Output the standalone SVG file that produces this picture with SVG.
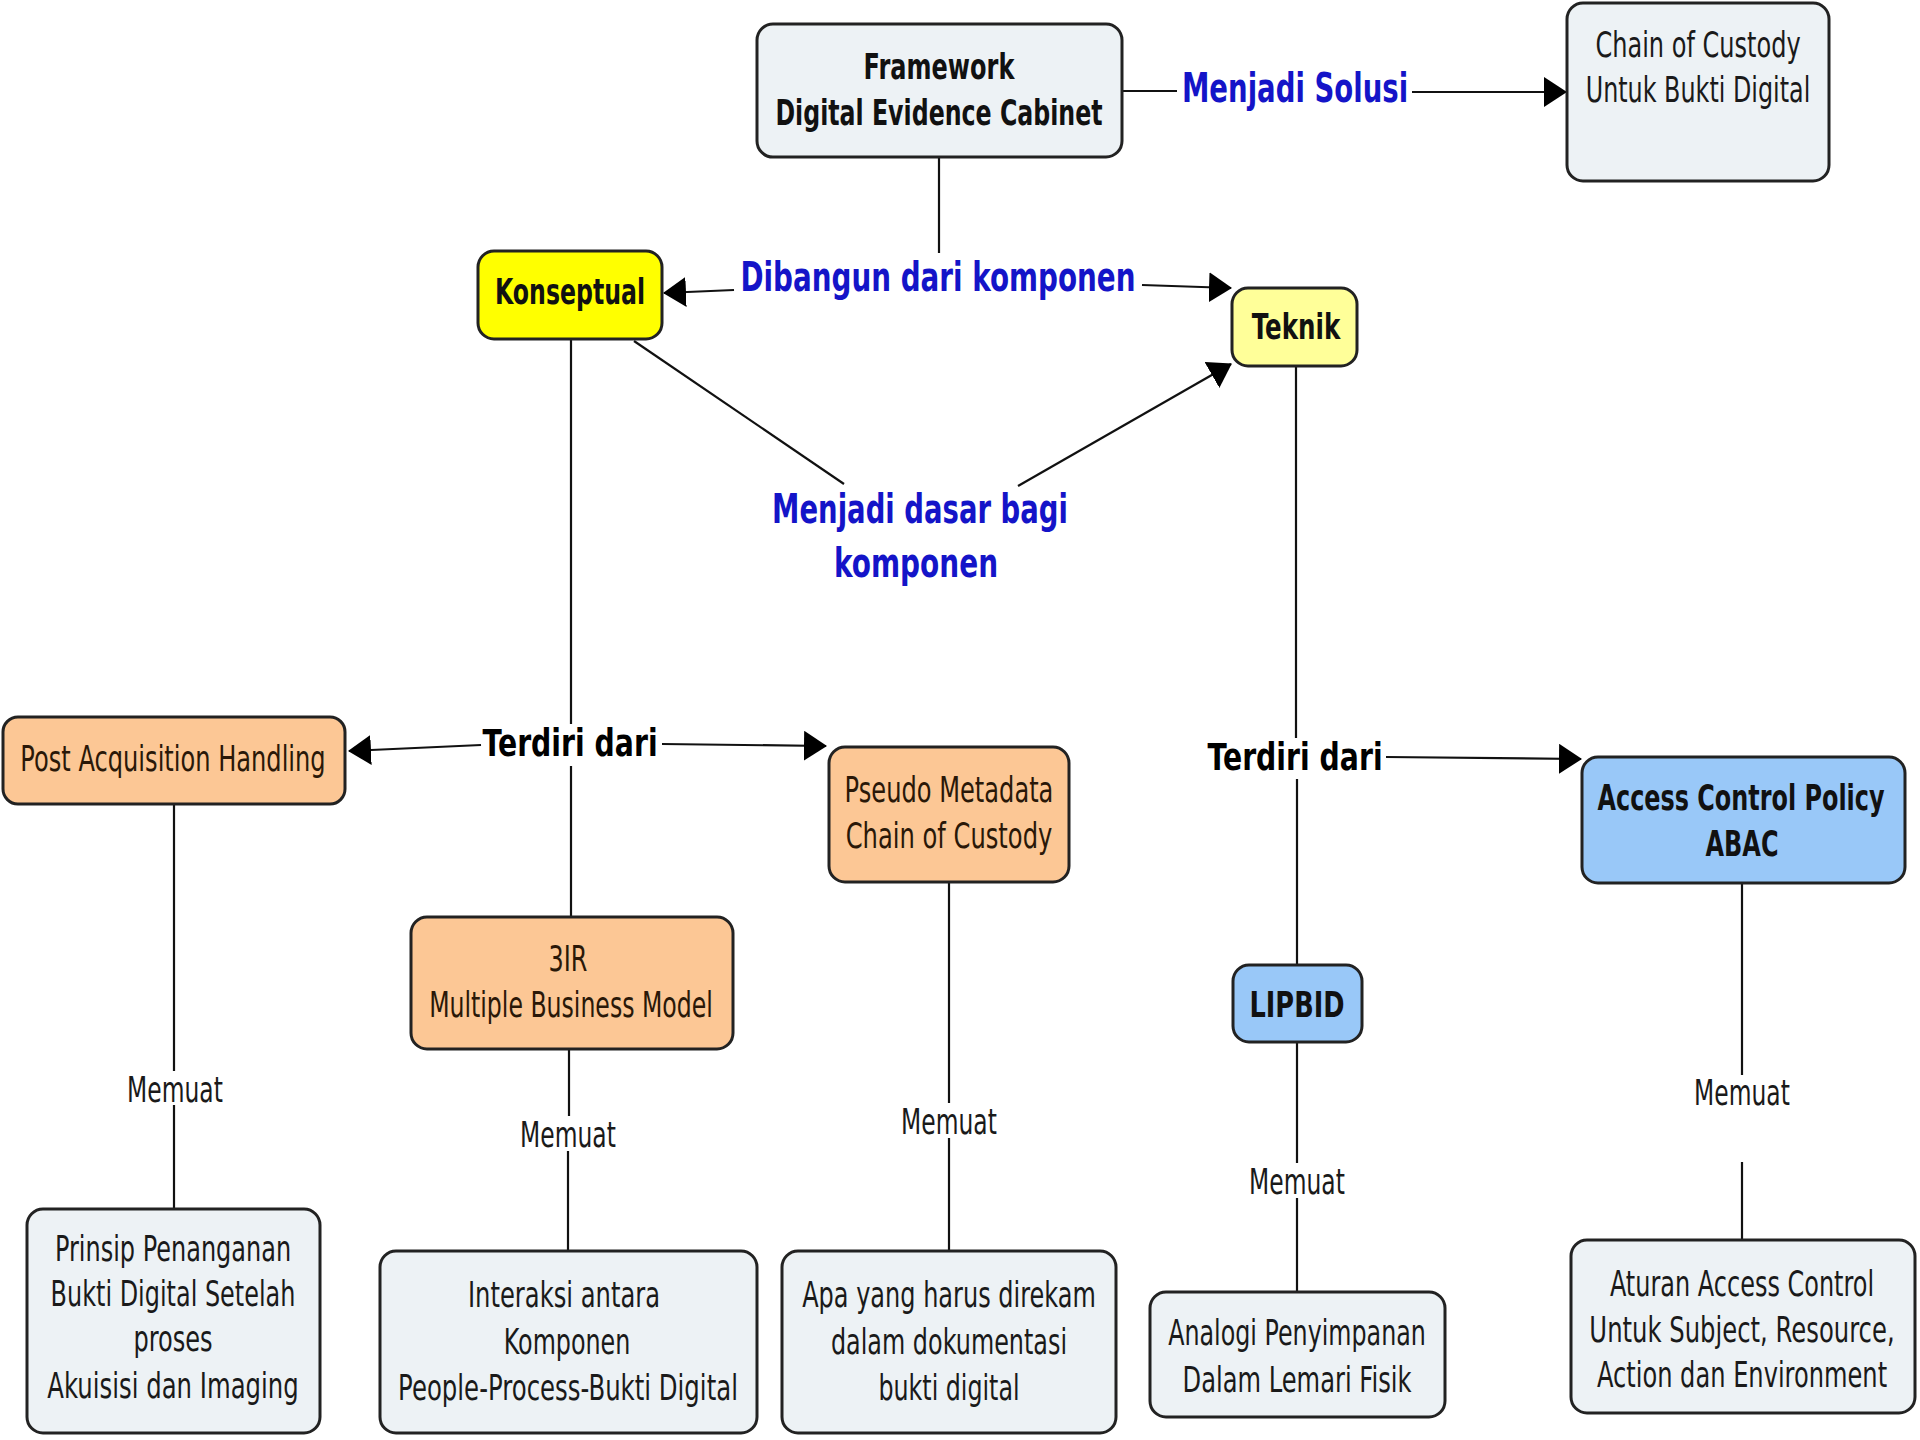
<svg xmlns="http://www.w3.org/2000/svg" width="1920" height="1440" viewBox="0 0 1920 1440">
  <defs>
    <marker id="arrow" markerUnits="userSpaceOnUse" markerWidth="24" markerHeight="30" refX="22" refY="15" orient="auto">
      <path d="M0,0 L23,15 L0,30 z" fill="#000"/>
    </marker>
  </defs>
  <style>
    .box { stroke: #222; stroke-width: 3; }
    .light { fill: #edf2f5; }
    .peach { fill: #fcc795; }
    .blue { fill: #99c8f8; }
    .yellow { fill: #ffff00; }
    .paleyellow { fill: #ffff99; }
    text { font-family: "DejaVu Sans", Verdana, sans-serif; text-anchor: middle; }
    .t { font-size: 35px; fill: #1a1a1a; }
    .tb { font-size: 35px; font-weight: bold; fill: #111; }
    .tp { font-size: 35px; fill: #2a1808; }
    .lbl { font-size: 41px; font-weight: bold; fill: #1414c8; }
    .lk { font-size: 37px; font-weight: bold; fill: #000; }
    .mem { font-size: 35px; fill: #1a1a1a; }
    .c { stroke: #111; stroke-width: 2.2; fill: none; }
    .ca { stroke: #111; stroke-width: 2.2; fill: none; marker-end: url(#arrow); }
  </style>

  <rect width="1920" height="1440" fill="#fff"/>

  <!-- connectors and their labels (labels use a narrow horizontal scale) -->
  <g id="connectors">
    <line class="c" x1="1122" y1="91" x2="1177" y2="91"/>
    <line class="ca" x1="1412" y1="92" x2="1566" y2="92"/>
    <text class="lbl" transform="translate(1295 0) scale(0.58 1)" x="0" y="102" textLength="390" lengthAdjust="spacingAndGlyphs">Menjadi Solusi</text>

    <line class="c" x1="939" y1="157" x2="939" y2="253"/>
    <line class="ca" x1="734" y1="290" x2="664" y2="293"/>
    <line class="ca" x1="1142" y1="285" x2="1231" y2="288"/>
    <text class="lbl" transform="translate(938 0) scale(0.58 1)" x="0" y="291" textLength="681" lengthAdjust="spacingAndGlyphs">Dibangun dari komponen</text>

    <line class="c" x1="634" y1="341" x2="844" y2="484"/>
    <line class="ca" x1="1018" y1="486" x2="1231" y2="364"/>
    <text class="lbl" transform="translate(920 0) scale(0.58 1)" x="0" y="523" textLength="510" lengthAdjust="spacingAndGlyphs">Menjadi dasar bagi</text>
    <text class="lbl" transform="translate(916 0) scale(0.58 1)" x="0" y="577" textLength="283" lengthAdjust="spacingAndGlyphs">komponen</text>

    <line class="c" x1="571" y1="339" x2="571" y2="724"/>
    <line class="c" x1="571" y1="766" x2="571" y2="917"/>
    <line class="ca" x1="481" y1="745" x2="349" y2="751"/>
    <line class="ca" x1="662" y1="744" x2="826" y2="746"/>
    <text class="lk" transform="translate(570 0) scale(0.58 1)" x="0" y="756" textLength="302" lengthAdjust="spacingAndGlyphs">Terdiri dari</text>

    <line class="c" x1="1296" y1="366" x2="1296" y2="738"/>
    <line class="c" x1="1297" y1="779" x2="1297" y2="965"/>
    <line class="ca" x1="1386" y1="757" x2="1581" y2="759"/>
    <text class="lk" transform="translate(1295 0) scale(0.58 1)" x="0" y="770" textLength="302" lengthAdjust="spacingAndGlyphs">Terdiri dari</text>

    <line class="c" x1="174" y1="804" x2="174" y2="1071"/>
    <line class="c" x1="174" y1="1105" x2="174" y2="1209"/>
    <text class="mem" transform="translate(175 0) scale(0.72 1)" x="0" y="1102" textLength="133" lengthAdjust="spacingAndGlyphs">Memuat</text>

    <line class="c" x1="569" y1="1049" x2="569" y2="1116"/>
    <line class="c" x1="568" y1="1151" x2="568" y2="1251"/>
    <text class="mem" transform="translate(568 0) scale(0.72 1)" x="0" y="1147" textLength="133" lengthAdjust="spacingAndGlyphs">Memuat</text>

    <line class="c" x1="949" y1="882" x2="949" y2="1103"/>
    <line class="c" x1="949" y1="1138" x2="949" y2="1251"/>
    <text class="mem" transform="translate(949 0) scale(0.72 1)" x="0" y="1134" textLength="133" lengthAdjust="spacingAndGlyphs">Memuat</text>

    <line class="c" x1="1297" y1="1042" x2="1297" y2="1163"/>
    <line class="c" x1="1297" y1="1198" x2="1297" y2="1292"/>
    <text class="mem" transform="translate(1297 0) scale(0.72 1)" x="0" y="1194" textLength="133" lengthAdjust="spacingAndGlyphs">Memuat</text>

    <line class="c" x1="1742" y1="883" x2="1742" y2="1075"/>
    <line class="c" x1="1742" y1="1162" x2="1742" y2="1240"/>
    <text class="mem" transform="translate(1742 0) scale(0.72 1)" x="0" y="1105" textLength="133" lengthAdjust="spacingAndGlyphs">Memuat</text>
  </g>

  <!-- concept nodes -->
  <g id="framework">
    <rect class="box light" x="757" y="24" width="365" height="133" rx="16"/>
    <text class="tb" transform="translate(939 0) scale(0.58 1)" x="0" y="79" textLength="260" lengthAdjust="spacingAndGlyphs">Framework</text>
    <text class="tb" transform="translate(939 0) scale(0.58 1)" x="0" y="125" textLength="564" lengthAdjust="spacingAndGlyphs">Digital Evidence Cabinet</text>
  </g>

  <g id="chain-of-custody">
    <rect class="box light" x="1567" y="3" width="262" height="178" rx="16"/>
    <text class="t" transform="translate(1698 0) scale(0.72 1)" x="0" y="57" textLength="285" lengthAdjust="spacingAndGlyphs">Chain of Custody</text>
    <text class="t" transform="translate(1698 0) scale(0.72 1)" x="0" y="102" textLength="312" lengthAdjust="spacingAndGlyphs">Untuk Bukti Digital</text>
  </g>

  <g id="konseptual">
    <rect class="box yellow" x="478" y="251" width="184" height="88" rx="16"/>
    <text class="tb" transform="translate(570 0) scale(0.58 1)" x="0" y="304" textLength="259" lengthAdjust="spacingAndGlyphs">Konseptual</text>
  </g>

  <g id="teknik">
    <rect class="box paleyellow" x="1232" y="288" width="125" height="78" rx="16"/>
    <text class="tb" transform="translate(1296 0) scale(0.58 1)" x="0" y="339" textLength="153" lengthAdjust="spacingAndGlyphs">Teknik</text>
  </g>

  <g id="post-acquisition">
    <rect class="box peach" x="3" y="717" width="342" height="87" rx="15"/>
    <text class="tp" transform="translate(173 0) scale(0.72 1)" x="0" y="771" textLength="424" lengthAdjust="spacingAndGlyphs">Post Acquisition Handling</text>
  </g>

  <g id="pseudo-metadata">
    <rect class="box peach" x="829" y="747" width="240" height="135" rx="16"/>
    <text class="tp" transform="translate(949 0) scale(0.72 1)" x="0" y="802" textLength="290" lengthAdjust="spacingAndGlyphs">Pseudo Metadata</text>
    <text class="tp" transform="translate(949 0) scale(0.72 1)" x="0" y="848" textLength="287" lengthAdjust="spacingAndGlyphs">Chain of Custody</text>
  </g>

  <g id="3ir">
    <rect class="box peach" x="411" y="917" width="322" height="132" rx="16"/>
    <text class="tp" transform="translate(568 0) scale(0.72 1)" x="0" y="971" textLength="54" lengthAdjust="spacingAndGlyphs">3IR</text>
    <text class="tp" transform="translate(571 0) scale(0.72 1)" x="0" y="1017" textLength="394" lengthAdjust="spacingAndGlyphs">Multiple Business Model</text>
  </g>

  <g id="lipbid">
    <rect class="box blue" x="1233" y="965" width="129" height="77" rx="16"/>
    <text class="tb" transform="translate(1297 0) scale(0.58 1)" x="0" y="1017" textLength="164" lengthAdjust="spacingAndGlyphs">LIPBID</text>
  </g>

  <g id="abac">
    <rect class="box blue" x="1582" y="757" width="323" height="126" rx="16"/>
    <text class="tb" transform="translate(1741 0) scale(0.58 1)" x="0" y="810" textLength="495" lengthAdjust="spacingAndGlyphs">Access Control Policy</text>
    <text class="tb" transform="translate(1742 0) scale(0.58 1)" x="0" y="856" textLength="126" lengthAdjust="spacingAndGlyphs">ABAC</text>
  </g>

  <g id="prinsip">
    <rect class="box light" x="27" y="1209" width="293" height="224" rx="16"/>
    <text class="t" transform="translate(173 0) scale(0.72 1)" x="0" y="1261" textLength="328" lengthAdjust="spacingAndGlyphs">Prinsip Penanganan</text>
    <text class="t" transform="translate(173 0) scale(0.72 1)" x="0" y="1306" textLength="340" lengthAdjust="spacingAndGlyphs">Bukti Digital Setelah</text>
    <text class="t" transform="translate(173 0) scale(0.72 1)" x="0" y="1351" textLength="110" lengthAdjust="spacingAndGlyphs">proses</text>
    <text class="t" transform="translate(173 0) scale(0.72 1)" x="0" y="1398" textLength="349" lengthAdjust="spacingAndGlyphs">Akuisisi dan Imaging</text>
  </g>

  <g id="interaksi">
    <rect class="box light" x="380" y="1251" width="377" height="182" rx="16"/>
    <text class="t" transform="translate(564 0) scale(0.72 1)" x="0" y="1307" textLength="267" lengthAdjust="spacingAndGlyphs">Interaksi antara</text>
    <text class="t" transform="translate(567 0) scale(0.72 1)" x="0" y="1354" textLength="176" lengthAdjust="spacingAndGlyphs">Komponen</text>
    <text class="t" transform="translate(568 0) scale(0.72 1)" x="0" y="1400" textLength="472" lengthAdjust="spacingAndGlyphs">People-Process-Bukti Digital</text>
  </g>

  <g id="apa-yang-direkam">
    <rect class="box light" x="782" y="1251" width="334" height="182" rx="16"/>
    <text class="t" transform="translate(949 0) scale(0.72 1)" x="0" y="1307" textLength="408" lengthAdjust="spacingAndGlyphs">Apa yang harus direkam</text>
    <text class="t" transform="translate(949 0) scale(0.72 1)" x="0" y="1354" textLength="328" lengthAdjust="spacingAndGlyphs">dalam dokumentasi</text>
    <text class="t" transform="translate(949 0) scale(0.72 1)" x="0" y="1400" textLength="196" lengthAdjust="spacingAndGlyphs">bukti digital</text>
  </g>

  <g id="analogi">
    <rect class="box light" x="1150" y="1292" width="295" height="125" rx="16"/>
    <text class="t" transform="translate(1297 0) scale(0.72 1)" x="0" y="1345" textLength="358" lengthAdjust="spacingAndGlyphs">Analogi Penyimpanan</text>
    <text class="t" transform="translate(1297 0) scale(0.72 1)" x="0" y="1392" textLength="318" lengthAdjust="spacingAndGlyphs">Dalam Lemari Fisik</text>
  </g>

  <g id="aturan">
    <rect class="box light" x="1571" y="1240" width="344" height="173" rx="16"/>
    <text class="t" transform="translate(1742 0) scale(0.72 1)" x="0" y="1296" textLength="367" lengthAdjust="spacingAndGlyphs">Aturan Access Control</text>
    <text class="t" transform="translate(1742 0) scale(0.72 1)" x="0" y="1342" textLength="424" lengthAdjust="spacingAndGlyphs">Untuk Subject, Resource,</text>
    <text class="t" transform="translate(1742 0) scale(0.72 1)" x="0" y="1387" textLength="403" lengthAdjust="spacingAndGlyphs">Action dan Environment</text>
  </g>
</svg>
